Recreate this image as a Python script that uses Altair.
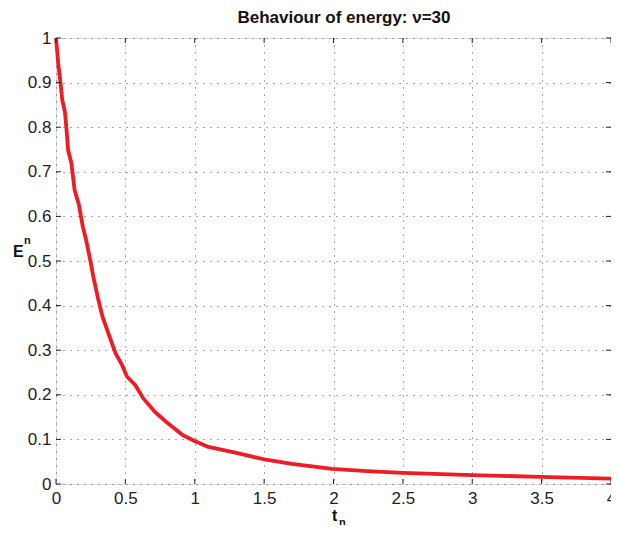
import altair as alt
import pandas as pd

# Curve
t_vals = [0.0, 0.016, 0.033, 0.045, 0.064, 0.076, 0.087, 0.111, 0.134, 0.165, 0.193,
          0.217, 0.25, 0.27, 0.30, 0.335, 0.382, 0.429, 0.476, 0.511, 0.571, 0.629,
          0.712, 0.806, 0.912, 0.995, 1.09, 1.30, 1.49, 1.70, 1.99, 2.24, 2.50, 3.0,
          3.49, 4.0]
e_vals = [1.0, 0.943, 0.898, 0.861, 0.835, 0.794, 0.749, 0.719, 0.659, 0.626, 0.577,
          0.547, 0.497, 0.463, 0.42, 0.375, 0.334, 0.293, 0.267, 0.241, 0.222, 0.192,
          0.162, 0.136, 0.110, 0.097, 0.084, 0.070, 0.056, 0.045, 0.034, 0.029, 0.025,
          0.020, 0.016, 0.012]

x_ticks = [0, 0.5, 1, 1.5, 2, 2.5, 3, 3.5, 4]
y_ticks = [0, 0.1, 0.2, 0.3, 0.4, 0.5, 0.6, 0.7, 0.8, 0.9, 1]

W, H = 555, 446
FONT = "Liberation Sans"

df = pd.DataFrame({"t": t_vals, "E": e_vals})
xt = pd.DataFrame({"t": x_ticks})
yt = pd.DataFrame({"E": y_ticks})
one = pd.DataFrame({"a": [0]})

xscale = alt.Scale(domain=[0, 4], nice=False, zero=False)
yscale = alt.Scale(domain=[0, 1], nice=False, zero=False)

xaxis = alt.Axis(values=x_ticks, format="~g", title=None, grid=True, ticks=False,
                 domain=False, labelPadding=6, labelFontSize=17, labelFont=FONT,
                 labelColor="#222", gridDash=[1, 6], gridColor="#444", gridOpacity=0.9,
                 labelFlush=False)
yaxis = alt.Axis(values=y_ticks, format="~g", title=None, grid=True, ticks=False,
                 domain=False, labelPadding=5, labelFontSize=17, labelFont=FONT,
                 labelColor="#222", gridDash=[1, 6], gridColor="#444", gridOpacity=0.9,
                 labelFlush=False)

line = alt.Chart(df).mark_line(color="#ee1c25", strokeWidth=3.8, strokeJoin="round").encode(
    x=alt.X("t:Q", scale=xscale, axis=xaxis),
    y=alt.Y("E:Q", scale=yscale, axis=yaxis),
)

tick_bottom = alt.Chart(xt).mark_rule(color="#222", strokeWidth=1).encode(
    x=alt.X("t:Q", scale=xscale), y=alt.value(H), y2=alt.value(H - 5))
tick_top = alt.Chart(xt).mark_rule(color="#222", strokeWidth=1).encode(
    x=alt.X("t:Q", scale=xscale), y=alt.value(0), y2=alt.value(5))
tick_left = alt.Chart(yt).mark_rule(color="#222", strokeWidth=1).encode(
    y=alt.Y("E:Q", scale=yscale), x=alt.value(0), x2=alt.value(5))
tick_right = alt.Chart(yt).mark_rule(color="#222", strokeWidth=1).encode(
    y=alt.Y("E:Q", scale=yscale), x=alt.value(W), x2=alt.value(W - 5))

def label(txt, x, y, size, align="left"):
    return alt.Chart(one).mark_text(text=txt, font=FONT, fontSize=size, fontWeight="bold",
                                    align=align, baseline="alphabetic", color="#111").encode(
        x=alt.value(x), y=alt.value(y))

title = label("Behaviour of energy: ν=30", 288, -15, 17, align="center")
e_lab = label("E", -43, 219, 16)
e_sup = label("n", -32, 206, 11)
t_lab = label("t", 276, 483, 16)
t_sub = label("n", 283, 488, 11)

chart = alt.layer(line, tick_bottom, tick_top, tick_left, tick_right,
                  title, e_lab, e_sup, t_lab, t_sub).properties(
    width=W, height=H,
    padding={"left": 48, "top": 30, "right": 0, "bottom": 41},
    autosize=alt.AutoSizeParams(type="none"),
).configure_view(stroke="#222", strokeWidth=1.3).configure(background="white")

chart.save("out.html", embed_options={"renderer": "svg", "actions": False})
